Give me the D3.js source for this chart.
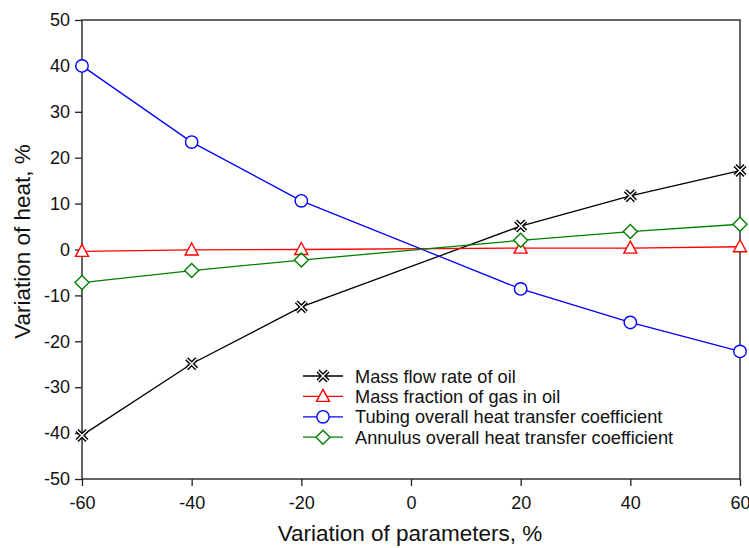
<!DOCTYPE html>
<html>
<head>
<meta charset="utf-8">
<script src="https://cdn.jsdelivr.net/npm/d3@7"></script>
<style>
  body { margin: 0; background: #fff; }
  svg text { font-family: 'Liberation Sans', Arial, sans-serif; fill: #111; }
</style>
</head>
<body>
<div id="chart"></div>
<script>
// data (no points at 0%)
const variations = [-60, -40, -20, 20, 40, 60];
const massFlow = [-40.5, -24.9, -12.5, 5.1, 11.7, 17.2];
const gasFraction = [-0.4, -0.1, 0.0, 0.3, 0.3, 0.6];
const tubingU = [40.0, 23.4, 10.6, -8.6, -15.9, -22.2];
const annulusU = [-7.2, -4.6, -2.3, 2.0, 3.9, 5.5];
const xTicks = [-60, -40, -20, 0, 20, 40, 60];
const yTicks = [-50, -40, -30, -20, -10, 0, 10, 20, 30, 40, 50];

const series = [
  { name: 'Mass flow rate of oil', values: massFlow, color: '#000000', marker: 'x' },
  { name: 'Mass fraction of gas in oil', values: gasFraction, color: '#ff0000', marker: 'triangle' },
  { name: 'Tubing overall heat transfer coefficient', values: tubingU, color: '#0000ff', marker: 'circle' },
  { name: 'Annulus overall heat transfer coefficient', values: annulusU, color: '#008000', marker: 'diamond' }
];

const W = 749, H = 548;
const MARGIN = { TOP: 20, RIGHT: 9, BOTTOM: 69, LEFT: 82 };
const innerW = W - MARGIN.LEFT - MARGIN.RIGHT;
const innerH = H - MARGIN.TOP - MARGIN.BOTTOM;

const svg = d3.select('#chart').append('svg')
  .attr('width', W).attr('height', H);
const g = svg.append('g')
  .attr('transform', `translate(${MARGIN.LEFT},${MARGIN.TOP})`);

const x = d3.scaleLinear().domain([-60, 60]).range([0, innerW]);
const y = d3.scaleLinear().domain([-50, 50]).range([innerH, 0]);

// frame
g.append('rect')
  .attr('width', innerW).attr('height', innerH)
  .attr('fill', 'none').attr('stroke', '#333').attr('stroke-width', 1.5);

// axes
const yAxis = g.append('g')
  .call(d3.axisLeft(y).tickValues(yTicks).tickSize(7).tickPadding(5).tickFormat(d3.format('d')));
const xAxis = g.append('g')
  .attr('transform', `translate(0,${innerH})`)
  .call(d3.axisBottom(x).tickValues(xTicks).tickSize(7).tickPadding(10).tickFormat(d3.format('d')));
[xAxis, yAxis].forEach((a) => {
  a.select('.domain').remove();
  a.selectAll('line').attr('stroke', '#222').attr('stroke-width', 1.3);
  a.selectAll('text').style('font-size', '18px').attr('fill', '#111');
});
// d3 uses unicode minus, use hyphen like the original
[xAxis, yAxis].forEach((a) => a.selectAll('text').text((d) => String(d)));

// titles
svg.append('text')
  .attr('x', MARGIN.LEFT + innerW / 2 - 1).attr('y', 541)
  .attr('text-anchor', 'middle').style('font-size', '22.5px')
  .text('Variation of parameters, %');
svg.append('text')
  .attr('transform', `translate(30,${MARGIN.TOP + innerH / 2 - 8}) rotate(-90)`)
  .attr('text-anchor', 'middle').style('font-size', '22.5px')
  .text('Variation of heat, %');

function drawMarker(sel, type, color) {
  if (type === 'circle') {
    sel.append('circle').attr('r', 6.2).attr('fill', '#fff').attr('stroke', color).attr('stroke-width', 1.4);
  } else if (type === 'triangle') {
    sel.append('path').attr('d', 'M0,-7 L6.5,5 L-6.5,5 Z')
      .attr('fill', '#fff').attr('stroke', color).attr('stroke-width', 1.4);
  } else if (type === 'diamond') {
    sel.append('path').attr('d', 'M0,-7 L7,0 L0,7 L-7,0 Z')
      .attr('fill', '#fff').attr('stroke', color).attr('stroke-width', 1.4);
  } else {
    const d = 'M-5,-5 L5,5 M-5,5 L5,-5';
    sel.append('path').attr('d', d).attr('stroke', color).attr('stroke-width', 4.2);
    sel.append('path').attr('d', d).attr('stroke', '#fff').attr('stroke-width', 1.4);
  }
}

const line = d3.line().x((d) => x(d[0])).y((d) => y(d[1]));

series.forEach((s) => {
  const pts = variations.map((v, i) => [v, s.values[i]]);
  g.append('path').datum(pts)
    .attr('d', line).attr('fill', 'none')
    .attr('stroke', s.color).attr('stroke-width', 1.3);
  g.selectAll(null).data(pts).enter().append('g')
    .attr('transform', (d) => `translate(${x(d[0])},${y(d[1])})`)
    .each(function () { drawMarker(d3.select(this), s.marker, s.color); });
});

// legend
const legend = svg.append('g').attr('transform', 'translate(303,376)');
series.forEach((s, i) => {
  const row = legend.append('g').attr('transform', `translate(0,${i * 20.4})`);
  row.append('line').attr('x1', 0).attr('x2', 40)
    .attr('stroke', s.color).attr('stroke-width', 1.3);
  drawMarker(row.append('g').attr('transform', 'translate(20,0)'), s.marker, s.color);
  row.append('text').attr('x', 52).attr('y', 6.5).style('font-size', '18.2px').text(s.name);
});
</script>
</body>
</html>
